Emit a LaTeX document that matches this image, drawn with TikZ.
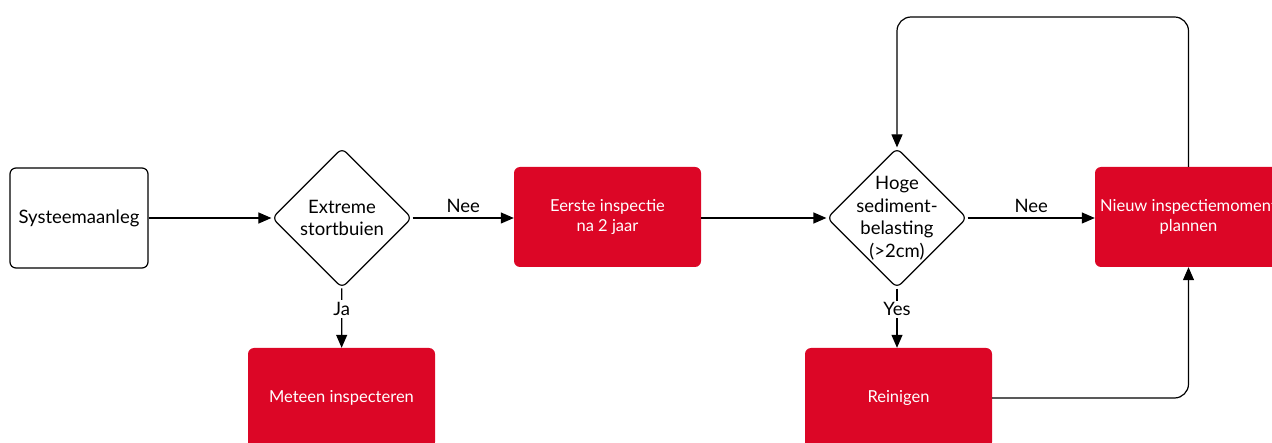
\documentclass[tikz,border=0pt]{standalone}
\usepackage{fontspec}
\setmainfont{Lato}
\usetikzlibrary{shapes.geometric,arrows.meta}
\definecolor{brandred}{HTML}{DC0626}
\begin{document}
\begin{tikzpicture}[x=1pt,y=-1pt,
  every node/.style={font=\fontsize{18.5}{22.5}\selectfont},
  whitebox/.style={draw,line width=1.2pt,rounded corners=6pt,minimum width=138pt,minimum height=100pt,inner sep=0pt,align=center},
  redbox/.style={fill=brandred,rounded corners=6pt,minimum width=187pt,minimum height=100pt,inner sep=0pt,align=center,text=white,font=\fontsize{16.5}{19.5}\selectfont},
  decision/.style={draw,line width=1.2pt,diamond,rounded corners=6pt,minimum width=140pt,minimum height=140pt,inner sep=0pt},
  dtext/.style={align=center,inner sep=0pt},
  arr/.style={line width=1.2pt,-{Triangle[length=13pt,width=11pt]}},
  lbl/.style={fill=white,inner sep=2pt}]
\useasboundingbox (0,0) rectangle (1272,443);
\node[whitebox] (sys) at (79,218) {Systeemaanleg};
\node[decision] (d1) at (342,218) {};
\node[dtext] (d1t) at (d1.center) {Extreme\\stortbuien};
\node[redbox] (e1) at (607.5,217) {Eerste inspectie\\na 2 jaar};
\node[decision] (d2) at (897,218) {};
\node[dtext] (d2t) at (d2.center) {Hoge\\sediment-\\belasting\\(>2cm)};
\node[redbox] (n1) at (1188.5,217) {Nieuw inspectiemoment\\plannen};
\node[redbox] (m1) at (341.5,398) {Meteen inspecteren};
\node[redbox] (r1) at (898.5,398) {Reinigen};
\coordinate (top) at (0,17);
\draw[arr] (sys) -- (d1);
\draw[arr] (d1) -- node[above=1pt]{Nee} (e1.west |- d1);
\draw[arr] (d1) -- node[lbl,pos=.35]{Ja} (m1);
\draw[arr] (e1.east |- d2) -- (d2);
\draw[arr] (d2) -- node[above=1pt]{Nee} (n1.west |- d2);
\draw[arr] (d2) -- node[lbl,pos=.35]{Yes} (d2 |- r1.north);
\draw[arr,rounded corners=14pt] (r1.east) -- (n1.south |- r1.east) -- (n1.south);
\draw[arr,rounded corners=14pt] (n1.north) -- (n1.north |- top) -- (d2.north |- top) -- (d2.north);
\end{tikzpicture}
\end{document}
